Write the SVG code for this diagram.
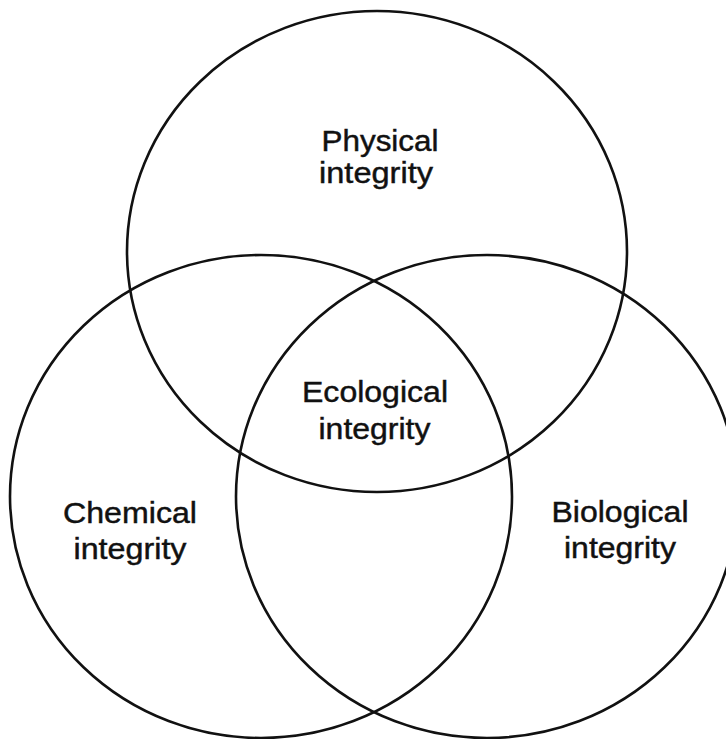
<svg xmlns="http://www.w3.org/2000/svg" width="726" height="739" viewBox="0 0 726 739">
<style>
.c{fill:none;stroke:#111;stroke-width:2.6}
.t{font-family:"Liberation Sans",Arial,sans-serif;font-size:29.5px;fill:#111;stroke:#111;stroke-width:0.45;text-anchor:middle}
</style>
<rect width="726" height="739" fill="#fff"/>
<g id="physical">
<ellipse class="c" cx="377" cy="251.5" rx="250" ry="240.5"/>
<text class="t" x="380" y="151" textLength="117" lengthAdjust="spacingAndGlyphs">Physical</text>
<text class="t" x="376" y="183" textLength="114" lengthAdjust="spacingAndGlyphs">integrity</text>
</g>
<g id="chemical">
<ellipse class="c" cx="261" cy="496.5" rx="251" ry="241.5"/>
<text class="t" x="130" y="523" textLength="134" lengthAdjust="spacingAndGlyphs">Chemical</text>
<text class="t" x="130" y="559" textLength="113" lengthAdjust="spacingAndGlyphs">integrity</text>
</g>
<g id="biological">
<ellipse class="c" cx="487" cy="496.5" rx="251" ry="241.5"/>
<text class="t" x="620" y="522" textLength="137" lengthAdjust="spacingAndGlyphs">Biological</text>
<text class="t" x="620" y="558" textLength="112" lengthAdjust="spacingAndGlyphs">integrity</text>
</g>
<g id="ecological">
<text class="t" x="375" y="402" textLength="146" lengthAdjust="spacingAndGlyphs">Ecological</text>
<text class="t" x="374.5" y="439" textLength="112" lengthAdjust="spacingAndGlyphs">integrity</text>
</g>
<g id="connectors"/>
</svg>
